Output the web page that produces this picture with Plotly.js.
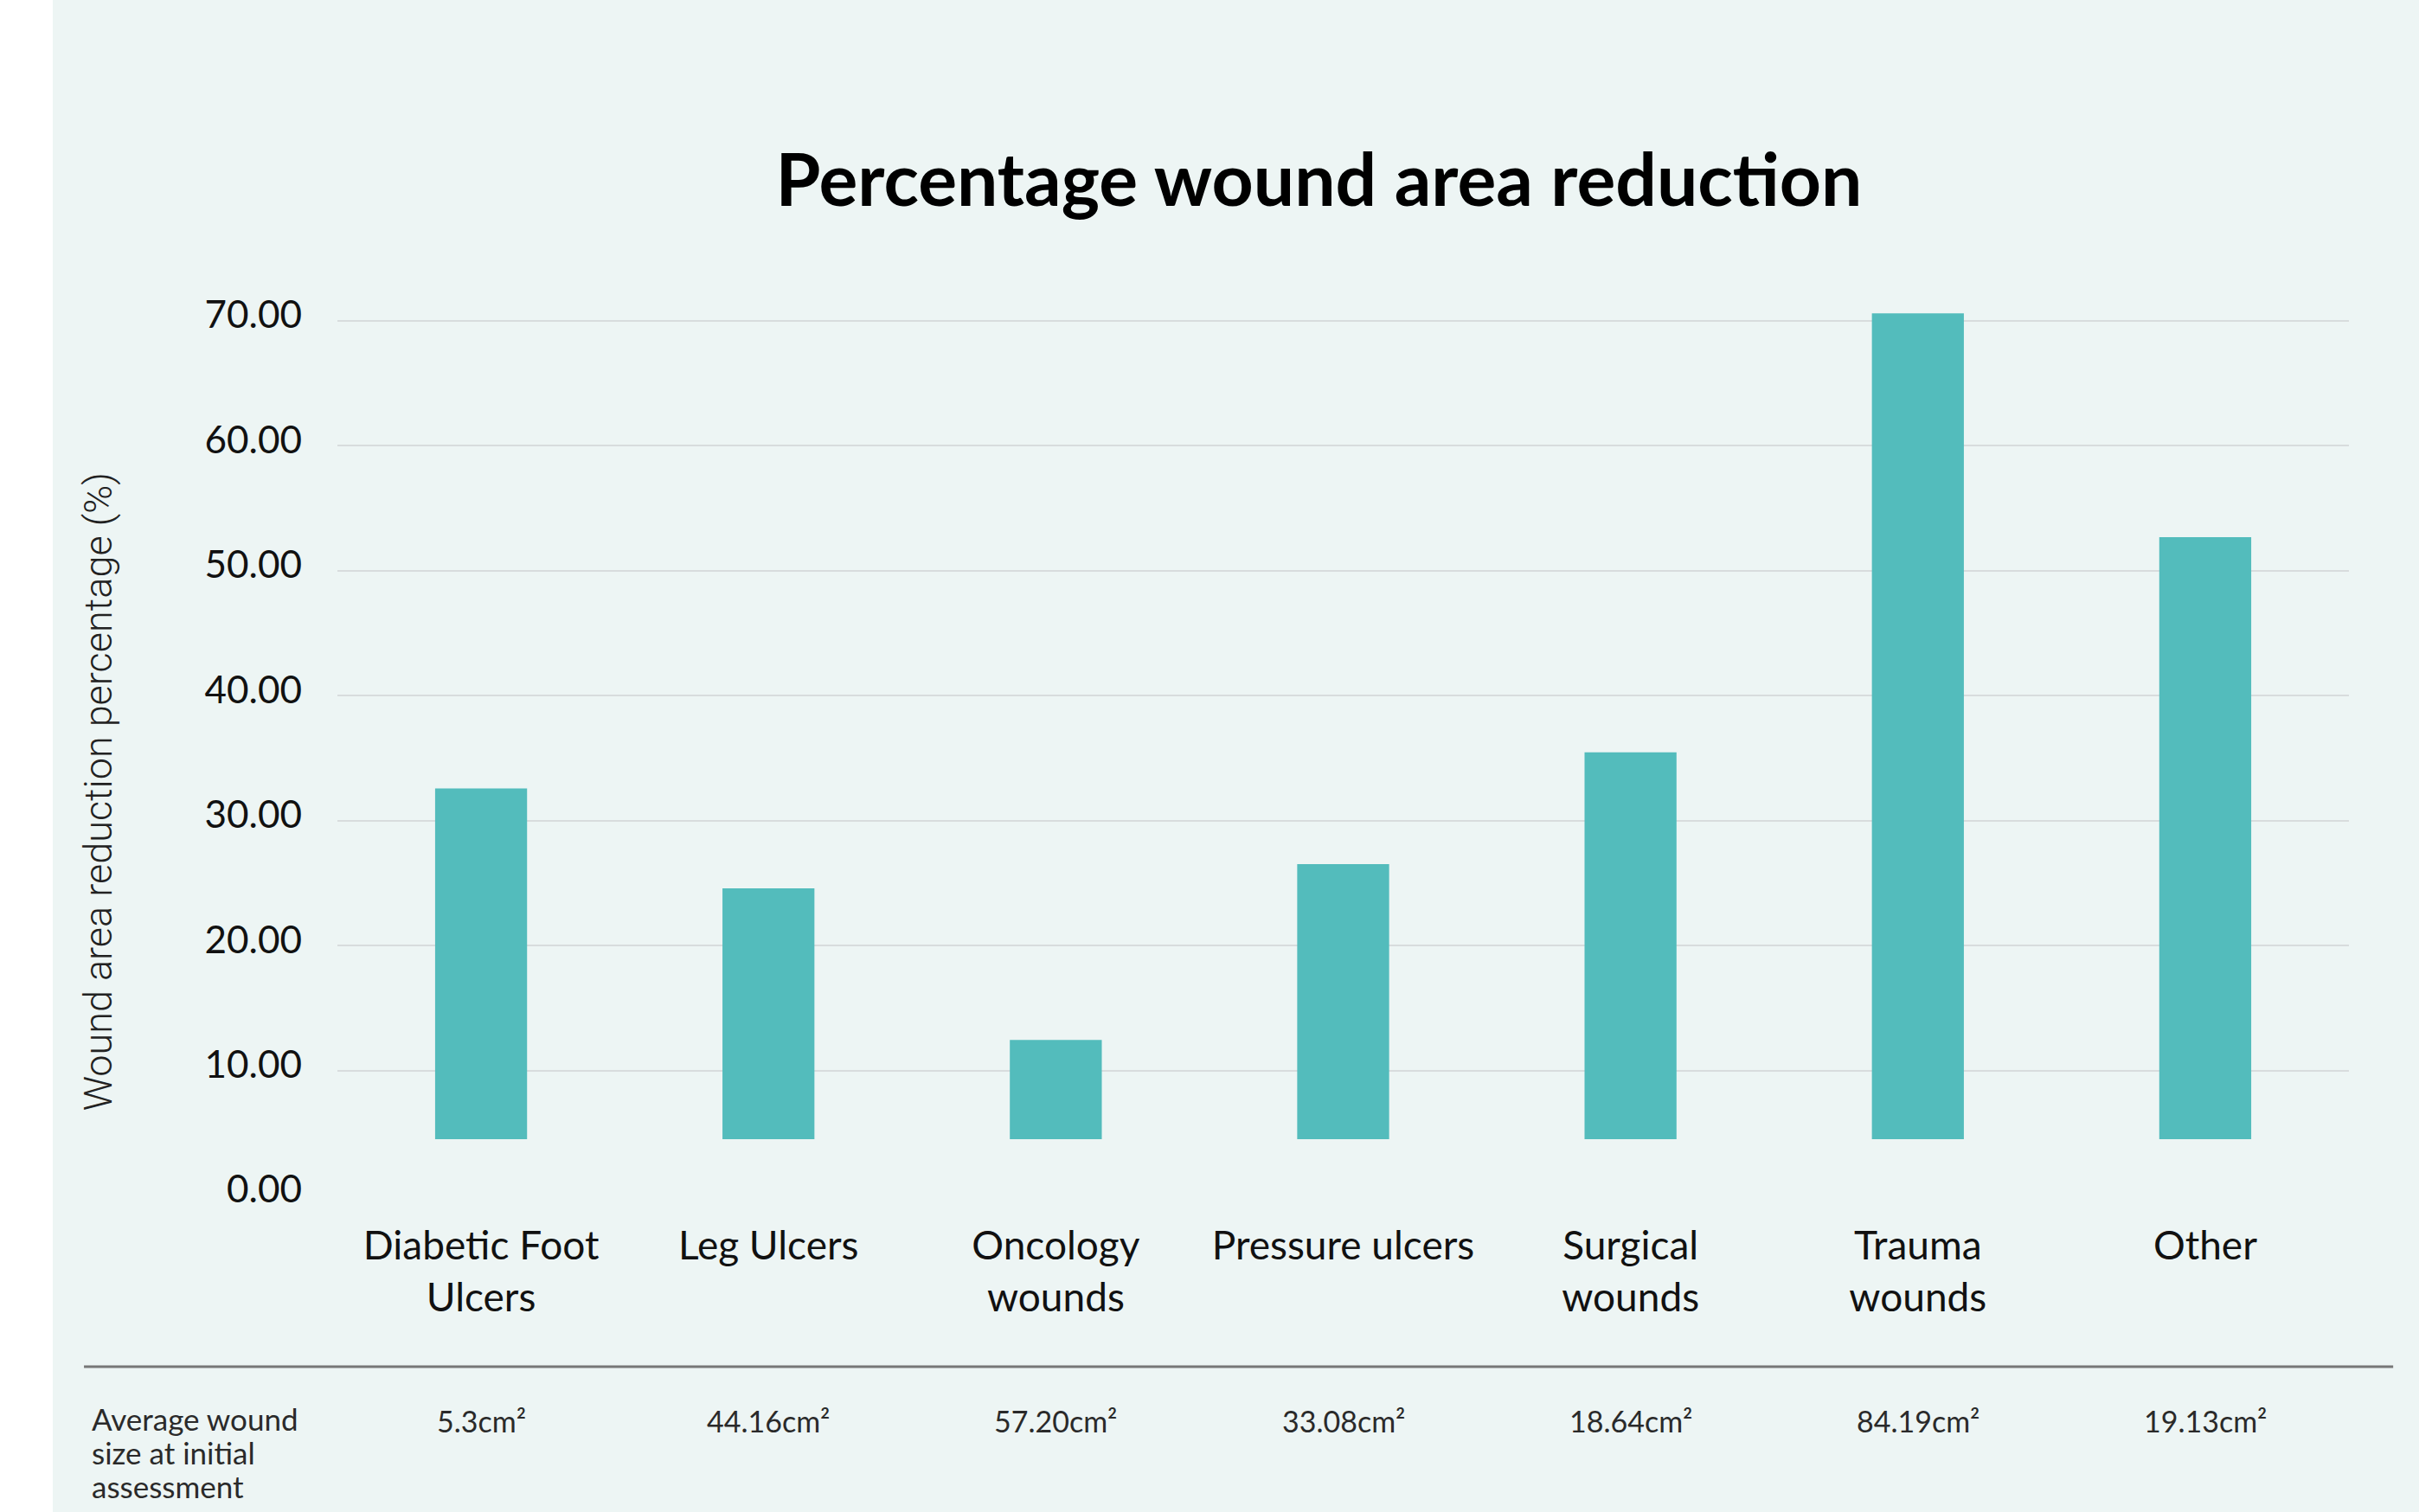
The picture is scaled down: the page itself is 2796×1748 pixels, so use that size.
<!DOCTYPE html>
<html>
<head>
<meta charset="utf-8">
<script src="https://cdn.plot.ly/plotly-3.0.1.min.js"></script>
<style>
  html, body { margin: 0; padding: 0; background: #ffffff; }
  #chart { position: absolute; left: 61px; top: 0; width: 2735px; height: 1748px; }
</style>
</head>
<body>
<div id="chart"></div>
<script>
// Wound categories and mean percentage area reduction
const categories = ["Diabetic Foot", "Leg Ulcers", "Oncology", "Pressure ulcers", "Surgical", "Trauma", "Other"];
const categoryLabels = ["Diabetic Foot<br>Ulcers", "Leg Ulcers", "Oncology<br>wounds", "Pressure ulcers", "Surgical<br>wounds", "Trauma<br>wounds", "Other"];
const reduction = [32.58, 24.58, 12.45, 26.51, 35.47, 70.60, 52.68];
const barBase = 4.5;
const initialSize = ["5.3cm²", "44.16cm²", "57.20cm²", "33.08cm²", "18.64cm²", "84.19cm²", "19.13cm²"];
const rowHeading = ["Average wound", "size at initial", "assessment"];
const yTicks = [0, 10, 20, 30, 40, 50, 60, 70];

const bg = "#EDF5F4";
const teal = "#53BCBC";
const bodyFont = "Lato, 'Open Sans', sans-serif";

const trace = {
  type: "bar",
  x: categories,
  y: reduction.map(v => v - barBase),
  base: barBase,
  width: 0.32,
  marker: { color: teal, line: { width: 0 } },
  hoverinfo: "skip"
};

// Row of average initial wound sizes under the chart
const sizeNotes = categories.map((c, i) => ({
  xref: "x", yref: "paper",
  x: c, y: -0.2508,
  text: initialSize[i],
  showarrow: false,
  xanchor: "center", yanchor: "middle",
  font: { family: bodyFont, size: 34, color: "#2a2a2a" }
}));

// Row heading, one line per entry with a fixed line pitch
const headingNotes = rowHeading.map((line, i) => ({
  xref: "paper", yref: "paper",
  x: -0.1230, y: -0.2482 - i * 0.0376,
  text: line,
  showarrow: false,
  xanchor: "left", yanchor: "middle",
  font: { family: bodyFont, size: 35, color: "#2a2a2a" }
}));

const layout = {
  width: 2735,
  height: 1748,
  paper_bgcolor: bg,
  plot_bgcolor: bg,
  margin: { l: 329, r: 81, t: 342, b: 366 },
  showlegend: false,
  title: {
    text: "<b>Percentage wound area reduction</b>",
    xref: "container", yref: "container",
    x: 0.5351, y: 1 - 209 / 1748,
    xanchor: "center", yanchor: "middle",
    font: { family: "Lato, 'Open Sans', sans-serif", size: 84, weight: 900, color: "#000000" }
  },
  xaxis: {
    type: "category",
    range: [-0.5, 6.5],
    tickvals: categories,
    ticktext: categoryLabels,
    showgrid: false,
    zeroline: false,
    showline: false,
    ticks: "",
    ticklabelstandoff: 27,
    tickfont: { family: bodyFont, size: 46, color: "#111111" },
    fixedrange: true
  },
  yaxis: {
    range: [0, 72],
    tickvals: yTicks,
    tickformat: ".2f",
    showgrid: true,
    gridcolor: "#D8DCDD",
    gridwidth: 2,
    zeroline: false,
    showline: false,
    ticks: "",
    ticklabelstandoff: 40,
    ticklabelshift: -7,
    tickfont: { family: bodyFont, size: 44, color: "#111111" },
    fixedrange: true
  },
  shapes: [
    {
      type: "line", xref: "paper", yref: "paper",
      x0: -0.126, x1: 1.022, y0: -0.1904, y1: -0.1904,
      line: { color: "#777777", width: 3 }
    }
  ],
  annotations: [
    {
      xref: "paper", yref: "paper",
      x: -0.119, y: 0.449,
      text: "Wound area reduction percentage (%)",
      textangle: -90,
      showarrow: false,
      xanchor: "center", yanchor: "middle",
      font: { family: "Roboto, 'Liberation Sans', sans-serif", size: 45, weight: 300, color: "#222222" }
    }
  ].concat(headingNotes, sizeNotes)
};

Plotly.newPlot("chart", [trace], layout, { displayModeBar: false, staticPlot: true });
</script>
</body>
</html>
